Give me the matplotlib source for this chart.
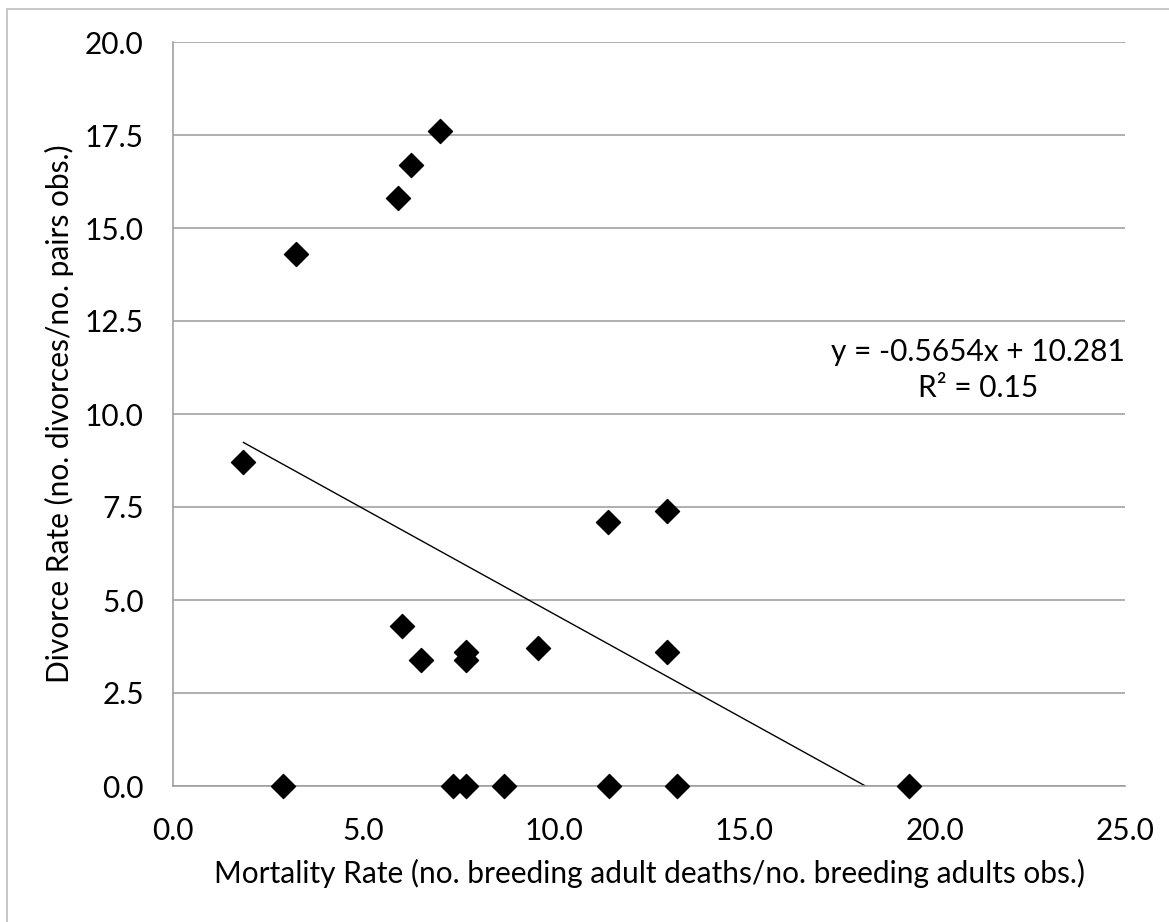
import matplotlib
matplotlib.use("Agg")
import matplotlib.pyplot as plt
from matplotlib.patches import Rectangle

# mortality rate (x) vs divorce rate (y)
mortality = [1.85, 2.90, 3.22, 5.90, 6.25, 7.00, 6.02, 6.50, 7.35, 7.70,
             7.70, 7.70, 8.70, 9.58, 11.43, 11.46, 12.98, 12.98, 13.23, 19.33]
divorce = [8.7, 0.0, 14.3, 15.8, 16.7, 17.6, 4.3, 3.4, 0.0, 0.0,
           3.6, 3.4, 0.0, 3.7, 7.1, 0.0, 7.4, 3.6, 0.0, 0.0]

# Excel linear trendline as printed on the chart
slope = -0.5654
intercept = 10.281
r_squared = 0.15

x_ticks = [0.0, 5.0, 10.0, 15.0, 20.0, 25.0]
y_ticks = [0.0, 2.5, 5.0, 7.5, 10.0, 12.5, 15.0, 17.5, 20.0]

plt.rcParams["font.family"] = ["Lato", "DejaVu Sans"]
FS = 21.5

W, H = 1169, 922
fig = plt.figure(figsize=(W / 100, H / 100), dpi=100)
ax = fig.add_axes([173 / W, 1 - 786 / H, 952 / W, 744 / H])

grid_col = "#9a9a9a"
fig.patches.append(Rectangle((7 / W, -0.1), 1.2, 1 - 9 / H + 0.1, transform=fig.transFigure,
                             fill=False, edgecolor="#bdbdbd", linewidth=1.2))

ax.set_xlim(0, 25)
ax.set_ylim(0, 20)
ax.set_xticks(x_ticks)
ax.set_yticks(y_ticks)
ax.set_xticklabels([f"{v:.1f}" for v in x_ticks])
ax.set_yticklabels([f"{v:.1f}" for v in y_ticks])
ax.tick_params(axis="both", length=0, labelsize=FS, colors="black")
ax.tick_params(axis="x", pad=22)
ax.tick_params(axis="y", pad=21)
ax.yaxis.grid(True, color=grid_col, linewidth=1.1)
ax.set_axisbelow(True)
for side in ("top", "right"):
    ax.spines[side].set_visible(False)
for side in ("left", "bottom"):
    ax.spines[side].set_color(grid_col)
    ax.spines[side].set_linewidth(1.1)

xs = [min(mortality), max(mortality)]
ax.plot(xs, [slope * v + intercept for v in xs], color="black", linewidth=1.0, zorder=2)
ax.scatter(mortality, divorce, marker="D", s=150, color="black", zorder=3, clip_on=False)

ax.text(978 / W, 1 - 352 / H, f"y = {slope}x + {intercept}", transform=fig.transFigure,
        ha="center", va="center", fontsize=FS)
ax.text(978 / W, 1 - 388 / H, f"R² = {r_squared}", transform=fig.transFigure,
        ha="center", va="center", fontsize=FS)

ax.set_xlabel("Mortality Rate (no. breeding adult deaths/no. breeding adults obs.)",
              fontsize=FS, labelpad=10)
ax.set_ylabel("Divorce Rate (no. divorces/no. pairs obs.)", fontsize=FS)
ax.yaxis.set_label_coords((74 - 173) / 952, 0.5)

fig.savefig("out.png", dpi=100)
plt.close(fig)
